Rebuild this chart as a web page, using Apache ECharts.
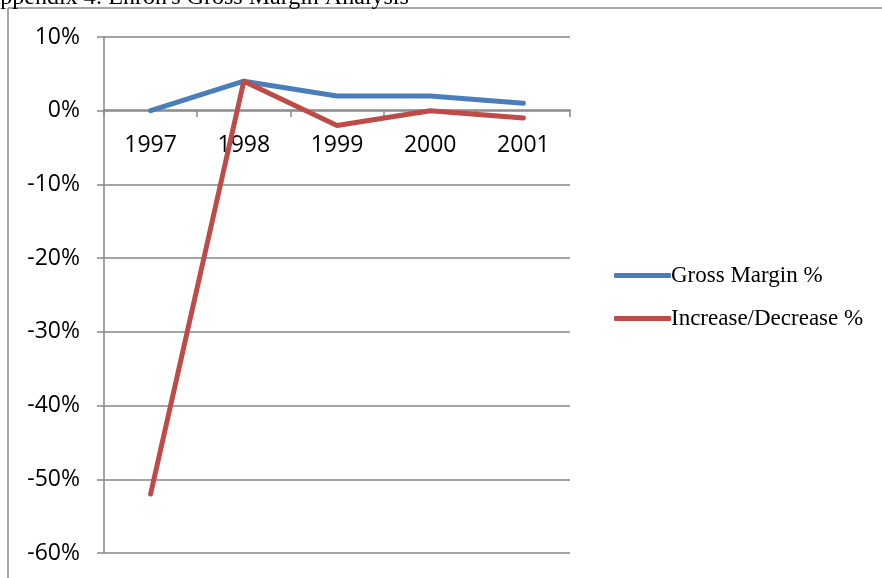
<!DOCTYPE html>
<html>
<head>
<meta charset="utf-8">
<script src="https://cdn.jsdelivr.net/npm/echarts@6/dist/echarts.min.js"></script>
<style>
  html, body { margin: 0; padding: 0; background: #fff; }
  #box { width: 882px; height: 578px; }
</style>
</head>
<body>
<div id="box"></div>
<script>
// chart values
const years = ['1997', '1998', '1999', '2000', '2001'];
const grossMargin = [0, 4, 2, 2, 1];
const increaseDecrease = [-52, 4, -2, 0, -1];
const seriesNames = ['Gross Margin %', 'Increase/Decrease %'];

const chart = echarts.init(document.getElementById('box'));

const option = {
    animation: false,
    backgroundColor: '#fff',
    title: {
        text: "Appendix 4: Enron's Gross Margin Analysis",
        left: -22,
        top: -19,
        textStyle: {
            fontFamily: 'Liberation Serif',
            fontWeight: 'normal',
            fontSize: 24,
            color: '#000'
        }
    },
    // 外框线
    graphic: [
        { type: 'line', shape: { x1: 8, y1: 8, x2: 8, y2: 578 }, style: { stroke: '#8a8a8a', lineWidth: 1.5 } },
        { type: 'line', shape: { x1: 8, y1: 8, x2: 882, y2: 8 }, style: { stroke: '#8a8a8a', lineWidth: 1.5 } }
    ],
    color: ['#4a7ebb', '#be4b48'],
    legend: {
        orient: 'vertical',
        left: 609,
        top: 259,
        itemGap: 20,
        itemWidth: 57,
        itemHeight: 5,
        icon: 'roundRect',
        data: seriesNames,
        textStyle: {
            fontFamily: 'Liberation Serif',
            fontSize: 23,
            color: '#000',
            padding: [0, 0, 0, -5]
        }
    },
    grid: {
        left: 104,
        top: 37,
        width: 466,
        height: 516
    },
    xAxis: {
        type: 'category',
        data: years,
        boundaryGap: true,
        position: 'bottom',
        offset: -443, // 横轴放在0%处
        axisLine: { onZero: false, lineStyle: { color: '#868686', width: 1.5 } },
        axisTick: { show: true, length: 7, lineStyle: { color: '#868686', width: 1.5 } },
        axisLabel: {
            margin: 24,
            fontFamily: 'Open Sans',
            fontSize: 23,
            color: '#000'
        }
    },
    yAxis: {
        type: 'value',
        min: -60,
        max: 10,
        interval: 10,
        axisLine: { show: true, lineStyle: { color: '#868686', width: 1.5 } },
        axisTick: { show: true, length: 7, lineStyle: { color: '#868686', width: 1.5 } },
        splitLine: { lineStyle: { color: '#868686', width: 1.5 } },
        axisLabel: {
            margin: 24,
            fontFamily: 'Open Sans',
            fontSize: 23,
            color: '#000',
            formatter: '{value}%'
        }
    },
    series: [
        {
            name: seriesNames[0],
            type: 'line',
            data: grossMargin,
            symbol: 'none',
            lineStyle: { width: 5, cap: 'round', join: 'round' }
        },
        {
            name: seriesNames[1],
            type: 'line',
            data: increaseDecrease,
            symbol: 'none',
            lineStyle: { width: 5, cap: 'round', join: 'round' }
        }
    ]
};

chart.setOption(option);
</script>
</body>
</html>
